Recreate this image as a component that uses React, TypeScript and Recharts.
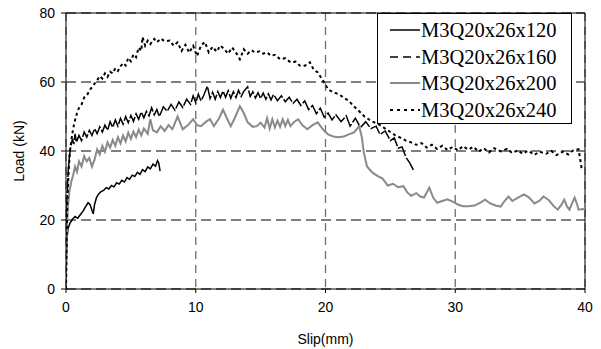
import React from "react"
import { LineChart, Line, XAxis, YAxis, CartesianGrid, ReferenceLine } from "recharts"

// slip (mm) / load (kN)
const slip120 = [0, 0.02, 0.05, 0.1, 0.15, 0.3, 0.5, 0.7, 0.9, 1.1, 1.3, 1.5, 1.7, 1.85, 2.0, 2.1, 2.2, 2.35, 2.5, 2.7, 2.9, 3.1, 3.3, 3.5, 3.7, 3.9, 4.1, 4.3, 4.5, 4.7, 4.9, 5.1, 5.3, 5.5, 5.7, 5.9, 6.1, 6.3, 6.5, 6.7, 6.9, 7.05, 7.15, 7.25]
const load120 = [0, 6, 12, 15.5, 17.5, 19, 20.2, 21, 20.5, 21.5, 22.5, 23.8, 25, 24.5, 22.8, 21.8, 24.5, 26.5, 27.5, 28.2, 28.6, 29.4, 29, 30, 29.6, 30.8, 30.4, 31.5, 31, 32.3, 31.8, 33, 32.6, 33.8, 33.2, 34.6, 34, 35.4, 34.8, 36.2, 35.6, 37.2, 36.5, 34.2]

const slip160 = [0, 0.03, 0.08, 0.15, 0.25, 0.35, 0.5, 0.6, 0.7, 0.8, 1.0, 1.2, 1.4, 1.6, 1.8, 2.0, 2.2, 2.4, 2.6, 2.8, 3.0, 3.2, 3.4, 3.6, 3.8, 4.0, 4.2, 4.4, 4.6, 4.8, 5.0, 5.2, 5.4, 5.6, 5.8, 6.0, 6.2, 6.4, 6.6, 6.8, 7.0, 7.2, 7.5, 7.8, 8.1, 8.4, 8.7, 9.0, 9.3, 9.6, 9.8, 10.0, 10.2, 10.4, 10.6, 10.9, 11.1, 11.3, 11.5, 11.7, 11.9, 12.1, 12.3, 12.5, 12.7, 12.9, 13.1, 13.3, 13.5, 13.7, 14.0, 14.2, 14.4, 14.6, 14.8, 15.0, 15.2, 15.4, 15.6, 15.8, 16.0, 16.3, 16.6, 16.9, 17.2, 17.5, 17.8, 18.1, 18.4, 18.7, 19.0, 19.3, 19.6, 19.9, 20.2, 20.5, 20.8, 21.2, 21.6, 21.9, 22.3, 22.7, 23.1, 23.5, 23.9, 24.2, 24.6, 25.0, 25.3, 25.6, 25.9, 26.2, 26.5, 26.8]
const load160 = [0, 14, 25, 33, 38, 41, 43.5, 42, 45, 42.5, 44.5, 43, 45.5, 44, 46, 44.5, 46.5, 45, 47, 45.5, 47.5, 46, 48.5, 46.8, 49, 47.2, 49.5, 47.8, 50, 48.2, 50.3, 48.6, 50.8, 49.2, 51.3, 49.6, 51.5, 50.2, 52.5, 50.5, 52, 50, 52.8, 51.5, 53.5, 51.8, 54.2, 52.6, 55, 53.5, 56, 54, 56.5, 54.5, 56, 58.8, 55.2, 57, 55, 57.2, 55.5, 57.4, 55.6, 57.5, 55.3, 57.2, 55.5, 57.6, 55.8, 57.3, 58.6, 55.8, 57.2, 55.4, 56.9, 55.2, 56.8, 55, 56.6, 54.8, 56.4, 54.6, 56, 54.3, 55.6, 53.8, 55, 53.2, 54.5, 52, 53.2, 50.8, 52.4, 49.8, 51, 49, 50.5, 48.5, 50.2, 47.2, 49.5, 46.8, 48.5, 46.5, 47.2, 44.8, 45.8, 43, 43.8, 40.8, 41.2, 38.2, 36.5, 34.3]

const slip200 = [0, 0.03, 0.08, 0.15, 0.25, 0.4, 0.55, 0.7, 0.85, 1.0, 1.2, 1.4, 1.6, 1.8, 2.0, 2.2, 2.4, 2.6, 2.8, 3.0, 3.2, 3.4, 3.6, 3.8, 4.0, 4.2, 4.4, 4.6, 4.8, 5.0, 5.2, 5.4, 5.6, 5.8, 6.0, 6.3, 6.5, 6.7, 7.0, 7.3, 7.6, 7.9, 8.2, 8.6, 9.0, 9.4, 9.8, 10.1, 10.4, 10.8, 11.1, 11.4, 11.8, 12.1, 12.4, 12.7, 13.0, 13.4, 13.7, 14.0, 14.4, 14.7, 15.0, 15.3, 15.5, 15.7, 15.9, 16.1, 16.3, 16.5, 16.7, 16.9, 17.1, 17.3, 17.6, 17.9, 18.2, 18.6, 19.0, 19.4, 19.8, 20.2, 20.6, 21.0, 21.4, 21.8, 22.2, 22.6, 22.8, 22.95, 23.2, 23.6, 24.0, 24.4, 24.8, 25.2, 25.6, 26.0, 26.3, 26.6, 27.0, 27.3, 27.6, 28.0, 28.3, 28.6, 29.0, 29.4, 29.8, 30.2, 30.6, 31.0, 31.5, 32.0, 32.3, 32.7, 33.1, 33.5, 33.8, 34.1, 34.4, 34.8, 35.3, 35.7, 36.1, 36.5, 36.8, 37.2, 37.6, 37.9, 38.2, 38.4, 38.6, 38.8, 39.0, 39.2, 39.4, 39.5, 39.8, 40.0, 40.4, 40.7, 41.0]
const load200 = [0, 10, 18, 24, 28, 31, 33, 35.5, 34, 37, 35.5, 38.5, 37, 38, 35.5, 37.5, 40.5, 39, 41.5, 39.8, 42.5, 41, 43.2, 41.5, 44, 42.2, 44.5, 42.8, 45.3, 43.5, 45.6, 44, 46.2, 44.5, 46.5, 45, 49.2, 46, 45.4, 47.2, 45.8, 47.5, 46.3, 50, 46.3, 47.5, 49.2, 47.5, 47.2, 48.5, 49.2, 47.2, 49.5, 52, 49.5, 47.2, 49.5, 53, 51, 48.3, 47, 47.2, 48.2, 46.8, 49.5, 46.5, 49.2, 46.8, 48.8, 47, 49.2, 47.2, 49, 47.2, 48.5, 49.2, 47.5, 46.3, 47.5, 48.3, 46.3, 44.8, 44.2, 44, 44.2, 44.8, 45.4, 47.2, 44, 39.6, 35.5, 33.8, 32.8, 32, 30, 30.5, 29.5, 29.8, 28, 27, 27.8, 26.8, 26.5, 29.4, 26.5, 25, 25.5, 26, 25.3, 24.5, 24, 24, 24.2, 25.2, 25.9, 24.8, 24.2, 23.9, 25.5, 26.8, 25.5, 26.4, 27.4, 26.5, 24.8, 25.6, 26.8, 25.8, 24, 23, 24.5, 25.9, 24, 23, 24.8, 26.5, 24.5, 23, 23.2, 23, 22.5, 21, 18]

const slip240 = [0, 0.05, 0.1, 0.2, 0.3, 0.45, 0.55, 0.7, 0.85, 1.0, 1.2, 1.4, 1.6, 1.8, 2.0, 2.2, 2.4, 2.6, 2.8, 3.0, 3.2, 3.4, 3.6, 3.8, 4.0, 4.2, 4.4, 4.6, 4.8, 5.0, 5.2, 5.4, 5.6, 5.8, 5.9, 6.1, 6.3, 6.5, 6.8, 7.0, 7.3, 7.6, 8.0, 8.3, 8.6, 8.9, 9.2, 9.5, 9.8, 10.1, 10.4, 10.7, 11.0, 11.3, 11.6, 11.9, 12.2, 12.5, 12.8, 13.1, 13.4, 13.7, 14.0, 14.3, 14.6, 14.9, 15.2, 15.5, 15.8, 16.1, 16.5, 16.9, 17.3, 17.7, 18.0, 18.3, 18.6, 18.8, 19.1, 19.4, 19.7, 20.0, 20.2, 20.6, 21.0, 21.4, 21.8, 22.2, 22.6, 23.0, 23.4, 23.8, 24.2, 24.6, 25.0, 25.4, 25.8, 26.2, 26.6, 27.0, 27.4, 27.8, 28.2, 28.6, 29.0, 29.4, 29.8, 30.2, 30.6, 31.0, 31.4, 31.8, 32.2, 32.6, 33.0, 33.5, 34.0, 34.4, 34.8, 35.2, 35.6, 36.1, 36.5, 37.0, 37.4, 37.8, 38.3, 38.7, 39.1, 39.5, 39.7, 39.75]
const load240 = [0, 15, 25, 34, 40, 44, 46.5, 49, 51, 52.5, 53.5, 55.5, 56, 57.5, 58.5, 59.5, 60.5, 61.7, 61, 62.5, 61.5, 63, 62.5, 64, 63.2, 64.5, 65.5, 64.8, 67, 66, 68, 67.2, 70, 69, 73, 70.5, 72, 71, 72.5, 71.5, 72.6, 71.8, 72, 70.5, 71.5, 69, 70.8, 68.5, 70.5, 67.5, 70.5, 71.6, 68.6, 70.2, 68.8, 70.6, 69.5, 68.2, 70, 68.5, 66.6, 69.5, 68.2, 69.2, 68.5, 68.9, 68.2, 68.6, 67.6, 67.9, 66.6, 66.9, 65.7, 65.9, 64.8, 64.6, 65, 65.7, 63.5, 62.8, 61, 59.2, 57.9, 57, 56.5, 55.5, 54.5, 52.9, 51.5, 50, 49, 48.2, 47.5, 46.5, 45.5, 44.5, 43.8, 43, 42.5, 41.8, 42.3, 41, 41.8, 40.6, 41.5, 40.3, 41.2, 40.2, 41.4, 40.4, 41.2, 39.8, 40.8, 39.6, 40.8, 39.9, 40.6, 39.4, 40.2, 39.2, 40.1, 38.9, 39.8, 39.2, 40, 38.8, 39.8, 39, 40.2, 40.5, 36, 34.6]

const slipTicks = [0, 10, 20, 30, 40]
const loadTicks = [0, 20, 40, 60, 80]

const toPoints = (xs: number[], ys: number[]) => xs.map((x, i) => ({ slip: x, load: ys[i] }))

const series = [
  { name: "M3Q20x26x120", data: toPoints(slip120, load120), color: "#000", width: 1.5, dash: undefined as string | undefined, legendDash: undefined as string | undefined },
  { name: "M3Q20x26x160", data: toPoints(slip160, load160), color: "#000", width: 1.5, dash: "14 2", legendDash: "8 5" },
  { name: "M3Q20x26x200", data: toPoints(slip200, load200), color: "#8a8a8a", width: 2, dash: undefined, legendDash: undefined },
  { name: "M3Q20x26x240", data: toPoints(slip240, load240), color: "#000", width: 2, dash: "3 3", legendDash: "3 4" },
]

const sans = "'Liberation Sans', Arial, sans-serif"
const serif = "'Liberation Serif', 'Times New Roman', serif"

function LegendBox() {
  return (
    <div style={{ position: "absolute", left: 377, top: 13, width: 195, height: 111, border: "1px solid #000", background: "#fff", fontFamily: serif, fontSize: 20.5, boxSizing: "border-box", paddingTop: 3 }}>
      {series.map((s) => (
        <div key={s.name} style={{ display: "flex", alignItems: "center", height: 26.5 }}>
          <svg width={43} height={10} style={{ flex: "none" }}>
            <line x1={12} y1={5} x2={42} y2={5} stroke={s.color} strokeWidth={s.width} strokeDasharray={s.legendDash} />
          </svg>
          <span style={{ lineHeight: "26px", whiteSpace: "nowrap" }}>{s.name}</span>
        </div>
      ))}
    </div>
  )
}

export default function App() {
  return (
    <div style={{ position: "absolute", left: 0, top: 0, width: 601, height: 349, background: "#fff" }}>
      <LineChart width={601} height={349} margin={{ top: 13, right: 16, left: 0, bottom: 0 }}>
        <CartesianGrid horizontal vertical={false} stroke="#000" strokeDasharray="10 5" />
        <CartesianGrid horizontal={false} vertical stroke="#6e6e6e" strokeWidth={1.3} strokeDasharray="8 6" />
        <XAxis
          type="number"
          dataKey="slip"
          domain={[0, 40]}
          ticks={slipTicks}
          allowDataOverflow
          height={60}
          stroke="#000"
          tickSize={4}
          tickMargin={9}
          tick={{ fill: "#000", fontSize: 14, fontFamily: sans }}
          label={{ value: "Slip(mm)", position: "insideBottom", offset: 5, fill: "#000", fontSize: 14, fontFamily: sans }}
        />
        <YAxis
          type="number"
          dataKey="load"
          domain={[0, 80]}
          ticks={loadTicks}
          width={66}
          stroke="#000"
          tickSize={5}
          tickMargin={6}
          tick={{ fill: "#000", fontSize: 14, fontFamily: sans }}
          label={{ value: "Load (kN)", angle: -90, position: "center", dx: -14, fill: "#000", fontSize: 14, fontFamily: sans }}
        />
        <ReferenceLine y={80} stroke="#000" />
        <ReferenceLine x={40} stroke="#000" />
        {series.map((s) => (
          <Line
            key={s.name}
            data={s.data}
            dataKey="load"
            name={s.name}
            type="linear"
            stroke={s.color}
            strokeWidth={s.width}
            strokeDasharray={s.dash}
            dot={false}
            activeDot={false}
            isAnimationActive={false}
          />
        ))}
      </LineChart>
      <LegendBox />
    </div>
  )
}
